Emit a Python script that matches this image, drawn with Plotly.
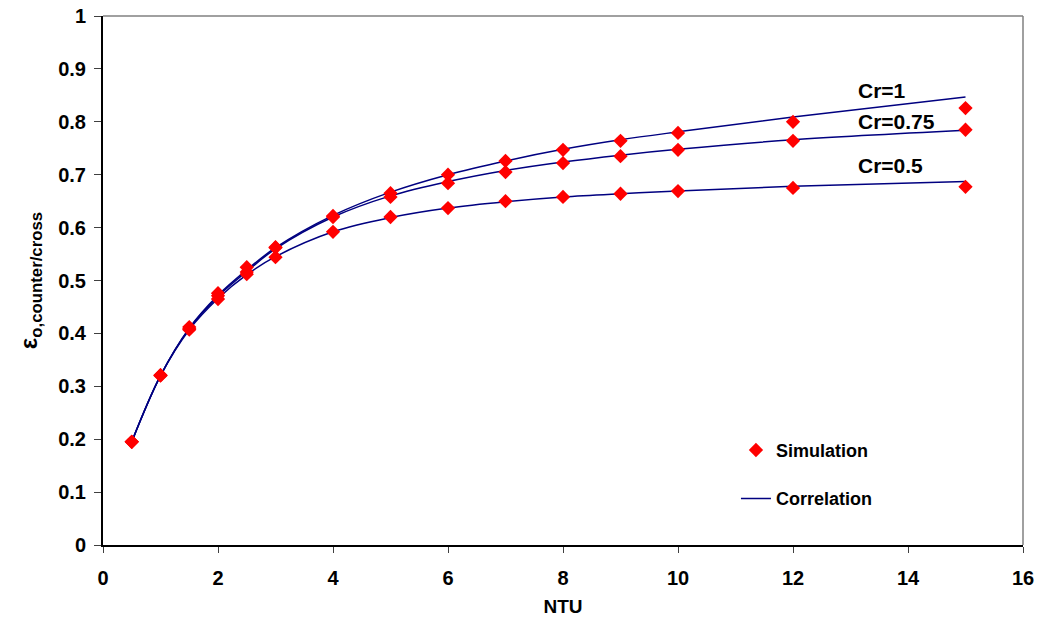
import plotly.graph_objects as go

ntu = [0.5, 1, 1.5, 2, 2.5, 3, 4, 5, 6, 7, 8, 9, 10, 12, 15]

sim_cr1 = [0.195, 0.321, 0.412, 0.476, 0.525, 0.563, 0.622, 0.665, 0.700, 0.726, 0.747, 0.764, 0.779, 0.800, 0.826]
sim_cr075 = [0.195, 0.321, 0.409, 0.471, 0.516, 0.562, 0.620, 0.658, 0.684, 0.705, 0.722, 0.735, 0.747, 0.764, 0.785]
sim_cr05 = [0.195, 0.320, 0.407, 0.465, 0.512, 0.544, 0.592, 0.620, 0.637, 0.650, 0.658, 0.664, 0.669, 0.675, 0.677]

cor_cr1 = [0.195, 0.320, 0.410, 0.472, 0.520, 0.562, 0.623, 0.667, 0.700, 0.726, 0.748, 0.766, 0.781, 0.809, 0.847]
cor_cr075 = [0.195, 0.320, 0.409, 0.470, 0.517, 0.560, 0.620, 0.660, 0.687, 0.708, 0.724, 0.737, 0.748, 0.766, 0.784]
cor_cr05 = [0.195, 0.320, 0.407, 0.466, 0.511, 0.545, 0.592, 0.619, 0.637, 0.649, 0.658, 0.664, 0.669, 0.678, 0.687]

labels = ["Cr=1", "Cr=0.75", "Cr=0.5"]
label_x = [13.1, 13.1, 13.1]
label_y = [0.86, 0.80, 0.718]

FONT = "Liberation Sans, Arial, sans-serif"
NARROW = "Liberation Sans Narrow, Arial Narrow, Liberation Sans, Arial, sans-serif"
LINE_C = "#000080"
MARK_C = "#ff0000"

fig = go.Figure()

for i, ys in enumerate([cor_cr1, cor_cr075, cor_cr05]):
    fig.add_trace(go.Scatter(
        x=ntu, y=ys, mode="lines", line=dict(color=LINE_C, width=1.5, shape="spline"),
        name="Correlation", legendgroup="cor", showlegend=(i == 0), legendrank=2))

for i, ys in enumerate([sim_cr1, sim_cr075, sim_cr05]):
    fig.add_trace(go.Scatter(
        x=ntu, y=ys, mode="markers",
        marker=dict(symbol="diamond", color=MARK_C, size=11, line=dict(width=0)),
        name="Simulation", legendgroup="sim", showlegend=(i == 0), legendrank=1))

for t, x, y in zip(labels, label_x, label_y):
    fig.add_annotation(x=x, y=y, text="<b>" + t + "</b>", showarrow=False,
                       xanchor="left", yanchor="middle",
                       font=dict(family=FONT, size=21, color="black"))

# gray top and right border
fig.add_shape(type="line", xref="paper", yref="paper", x0=0, x1=1, y0=1, y1=1,
              line=dict(color="#808080", width=1.5))
fig.add_shape(type="line", xref="paper", yref="paper", x0=1, x1=1, y0=0, y1=1,
              line=dict(color="#808080", width=1.5))

fig.update_layout(
    width=1042, height=624,
    margin=dict(l=103, r=19, t=16, b=79),
    paper_bgcolor="white", plot_bgcolor="white",
    font=dict(family=FONT, size=17, color="black"),
    legend=dict(x=0.688, y=0.214, xanchor="left", yanchor="top",
                bgcolor="rgba(0,0,0,0)", tracegroupgap=22,
                font=dict(family=FONT, size=18, color="black", weight="bold")),
    xaxis=dict(range=[0, 16], dtick=2, tick0=0, showgrid=False, zeroline=False,
               showline=True, linecolor="black", linewidth=2, automargin=False,
               ticks="outside", ticklen=6, tickcolor="#404040", tickwidth=1,
               ticklabelstandoff=8,
               tickfont=dict(family=NARROW, size=20, color="black", weight="bold"),
               title=dict(text="NTU", font=dict(family=NARROW, size=19, weight="bold"), standoff=12)),
    yaxis=dict(range=[0, 1], dtick=0.1, tick0=0, showgrid=False, zeroline=False,
               showline=True, linecolor="black", linewidth=2, automargin=False,
               ticks="outside", ticklen=7, tickcolor="#404040", tickwidth=1,
               ticklabelstandoff=4,
               tickfont=dict(family=FONT, size=20, color="black", weight="bold"),
               tickformat=".1~f",
               title=dict(text="<b>ε<sub>o,counter/cross</sub></b>", font=dict(family=FONT, size=24), standoff=14)),
)

fig.write_html("out.html")
